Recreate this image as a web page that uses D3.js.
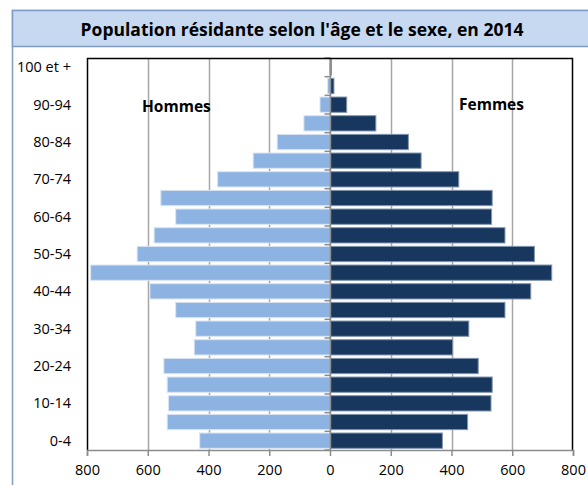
<!DOCTYPE html>
<html>
<head>
<meta charset="utf-8">
<script src="https://cdnjs.cloudflare.com/ajax/libs/d3/7.8.5/d3.min.js"></script>
<style>
body { margin:0; background:#fff; }
text { font-family: "Open Sans", Lato, sans-serif; fill:#000; }
</style>
</head>
<body>
<div id="chart-area"></div>
<script>
const ageGroups = ["0-4","5-9","10-14","15-19","20-24","25-29","30-34","35-39","40-44","45-49",
                   "50-54","55-59","60-64","65-69","70-74","75-79","80-84","85-89","90-94","95-99","100 et +"];
const hommes = [429,536,532,536,547,447,442,508,593,788,635,579,508,557,370,253,174,86,33,8,2];
const femmes = [370,453,530,534,488,404,457,576,661,730,673,576,532,534,424,300,258,151,55,13,5];
const xTicks = [-800,-600,-400,-200,0,200,400,600,800];
const shownLabels = ["0-4","10-14","20-24","30-34","40-44","50-54","60-64","70-74","80-84","90-94","100 et +"];

const W = 588, H = 485;
const margin = {top:58, right:15, bottom:35, left:87};
const width = W - margin.left - margin.right;
const height = H - margin.top - margin.bottom;

const svg = d3.select("#chart-area").append("svg")
    .attr("width", W).attr("height", H);

// frame + title band
svg.append("rect").attr("x",12.5).attr("y",10.5).attr("width",W).attr("height",H)
   .attr("fill","none").attr("stroke","#7F9DC6").attr("stroke-width",1.5);
svg.append("rect").attr("x",12.5).attr("y",10.5).attr("width",W).attr("height",36)
   .attr("fill","#C6D9F1").attr("stroke","#7F9DC6").attr("stroke-width",1.5);
svg.append("text").attr("x",302).attr("y",36).attr("text-anchor","middle")
   .attr("font-size","17.5px").attr("font-weight","bold")
   .text("Population résidante selon l'âge et le sexe, en 2014");

const g = svg.append("g").attr("transform","translate(" + margin.left + "," + margin.top + ")");

const x = d3.scaleLinear().domain([-800,800]).range([0,width]);
const y = d3.scaleBand().domain(ageGroups.slice().reverse()).range([0,height])
    .paddingInner(0.18).paddingOuter(0.09);

// gridlines
g.selectAll("line.grid").data(xTicks.filter(d => d != 0 && Math.abs(d) != 800)).enter()
 .append("line").attr("class","grid")
 .attr("x1",d => Math.round(x(d))+0.5).attr("x2",d => Math.round(x(d))+0.5)
 .attr("y1",0).attr("y2",height)
 .attr("stroke","#A6A6A6").attr("stroke-width",1.5);

const rows = ageGroups.map((a,i) => ({age:a, h:hommes[i], f:femmes[i]}));

g.selectAll("rect.h").data(rows).enter().append("rect").attr("class","h")
 .attr("x",d => x(-d.h)).attr("y",d => y(d.age))
 .attr("width",d => x(0) - x(-d.h)).attr("height",y.bandwidth())
 .attr("fill","#8DB3E2").attr("stroke","#DCE6F2").attr("stroke-width",1);

g.selectAll("rect.f").data(rows).enter().append("rect").attr("class","f")
 .attr("x",x(0)).attr("y",d => y(d.age))
 .attr("width",d => x(d.f) - x(0)).attr("height",y.bandwidth())
 .attr("fill","#17375E").attr("stroke","#8497B0").attr("stroke-width",1);

// category axis at zero, ticks between categories
const step = y.step();
const zx = Math.round(x(0))+0.5;
g.append("line").attr("x1",zx).attr("x2",zx).attr("y1",0).attr("y2",height)
 .attr("stroke","#8C8C8C").attr("stroke-width",1.5);
g.selectAll("line.ctick").data(d3.range(ageGroups.length+1)).enter()
 .append("line").attr("class","ctick")
 .attr("x1",zx-6).attr("x2",zx).attr("y1",d => d*step).attr("y2",d => d*step)
 .attr("stroke","#8C8C8C").attr("stroke-width",1.5);

// category labels at far left
g.selectAll("text.cat").data(shownLabels).enter().append("text").attr("class","cat")
 .attr("x",-16).attr("y",d => y(d) + y.bandwidth()/2)
 .attr("dy","0.35em").attr("text-anchor","end").attr("font-size","14.5px")
 .text(d => d);

// plot border (top, left, right)
g.append("path").attr("d","M0.5," + height + "V0.5H" + (width-0.5) + "V" + height)
 .attr("fill","none").attr("stroke","#000").attr("stroke-width",1.5);

// bottom value axis
const xAxis = d3.axisBottom(x).tickValues(xTicks).tickSize(6).tickFormat(d => Math.abs(d));
const ax = g.append("g").attr("transform","translate(0," + height + ")").call(xAxis);
ax.select(".domain").attr("stroke","#8C8C8C").attr("stroke-width",1.5);
ax.selectAll(".tick line").attr("stroke","#8C8C8C").attr("stroke-width",1.5);
ax.selectAll(".tick text").attr("font-size","14.5px").attr("y",15)
  .style("font-family","'Open Sans', Lato, sans-serif").attr("fill","#000");

g.append("text").attr("x",55).attr("y",54).attr("font-size","15.5px").attr("font-weight","bold").text("Hommes");
g.append("text").attr("x",372).attr("y",52).attr("font-size","15.5px").attr("font-weight","bold").text("Femmes");
</script>
</body>
</html>
